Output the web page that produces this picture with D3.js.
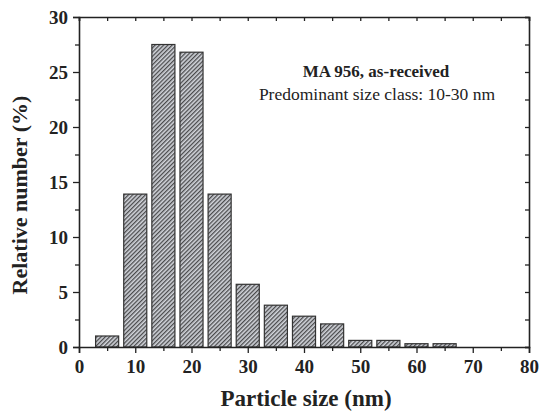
<!DOCTYPE html>
<html lang="en">
<head>
<meta charset="utf-8">
<title>Particle size histogram</title>
<script src="https://cdn.jsdelivr.net/npm/d3@7"></script>
<style>
  body { margin: 0; background: #fff; }
  text { font-family: "Liberation Serif", "DejaVu Serif", serif; fill: #222; }
</style>
</head>
<body>
<script>
// bin centres (nm) and relative number (%)
const sizes = [5, 10, 15, 20, 25, 30, 35, 40, 45, 50, 55, 60, 65];
const percents = [1.0, 13.9, 27.5, 26.8, 13.9, 5.7, 3.8, 2.8, 2.1, 0.6, 0.6, 0.3, 0.3];
const xTicks = [0, 10, 20, 30, 40, 50, 60, 70, 80];
const yTicks = [0, 5, 10, 15, 20, 25, 30];

const w = 541, h = 412;
const mLeft = 79, mRight = 529, mTop = 17, mBottom = 347;

const x = d3.scaleLinear().domain([0, 80]).range([mLeft, mRight]);
const y = d3.scaleLinear().domain([0, 30]).range([mBottom, mTop]);

const svg = d3.select("body").append("svg")
  .attr("width", w).attr("height", h);

// hatch pattern for bars
const pat = svg.append("defs").append("pattern")
  .attr("id", "hatch")
  .attr("patternUnits", "userSpaceOnUse")
  .attr("width", 3).attr("height", 3)
  .attr("patternTransform", "rotate(45)");
pat.append("rect").attr("width", 3).attr("height", 3).attr("fill", "#d2d5db");
pat.append("rect").attr("width", 1.3).attr("height", 3).attr("fill", "#4a4a4c");

// bars
const barW = 4.1;
svg.selectAll(".bar")
  .data(sizes.map((s, i) => ({ s, v: percents[i] })))
  .enter().append("rect")
  .attr("class", "bar")
  .attr("x", d => x(d.s - barW / 2))
  .attr("y", d => y(d.v))
  .attr("width", d => x(barW) - x(0))
  .attr("height", d => y(0) - y(d.v))
  .attr("fill", "url(#hatch)")
  .attr("stroke", "#333")
  .attr("stroke-width", 1.2);

// axes
const fmt = d3.format("d");
svg.append("g")
  .attr("transform", `translate(0,${mBottom})`)
  .call(d3.axisBottom(x).tickValues(xTicks).tickFormat(fmt).tickSize(6).tickPadding(7));
svg.append("g")
  .attr("transform", `translate(0,${mBottom})`)
  .call(d3.axisBottom(x).tickValues(d3.range(5, 80, 10)).tickFormat("").tickSize(4))
  .select(".domain").remove();

svg.append("g")
  .attr("transform", `translate(${mLeft},0)`)
  .call(d3.axisLeft(y).tickValues(yTicks).tickFormat(fmt).tickSize(6).tickPadding(5));
svg.append("g")
  .attr("transform", `translate(${mLeft},0)`)
  .call(d3.axisLeft(y).tickValues(d3.range(2.5, 30, 5)).tickFormat("").tickSize(4))
  .select(".domain").remove();

// mirrored top / right axes with inward ticks
svg.append("g")
  .attr("transform", `translate(0,${mTop})`)
  .call(d3.axisBottom(x).tickValues(d3.range(0, 81, 5)).tickFormat("").tickSize(4));
svg.append("g")
  .attr("transform", `translate(${mRight},0)`)
  .call(d3.axisLeft(y).tickValues(d3.range(0, 30.1, 2.5)).tickFormat("").tickSize(4));

svg.selectAll(".domain").attr("stroke", "#222").attr("stroke-width", 1.6);
svg.selectAll(".tick line").attr("stroke", "#222").attr("stroke-width", 1.3);
svg.selectAll(".tick text")
  .attr("font-size", 19).attr("font-weight", "bold")
  .style("font-family", "'Liberation Serif', serif").attr("fill", "#222");

// axis titles
svg.append("text")
  .attr("x", 306).attr("y", 406)
  .attr("text-anchor", "middle")
  .attr("font-size", 23).attr("font-weight", "bold")
  .text("Particle size (nm)");

svg.append("text")
  .attr("transform", "translate(27,195) rotate(-90)")
  .attr("text-anchor", "middle")
  .attr("font-size", 22).attr("font-weight", "bold")
  .text("Relative number (%)");

// annotation
svg.append("text")
  .attr("x", 376).attr("y", 77)
  .attr("text-anchor", "middle")
  .attr("font-size", 17).attr("font-weight", "bold")
  .text("MA 956, as-received");
svg.append("text")
  .attr("x", 377).attr("y", 100)
  .attr("text-anchor", "middle")
  .attr("font-size", 17.5)
  .text("Predominant size class: 10-30 nm");
</script>
</body>
</html>
